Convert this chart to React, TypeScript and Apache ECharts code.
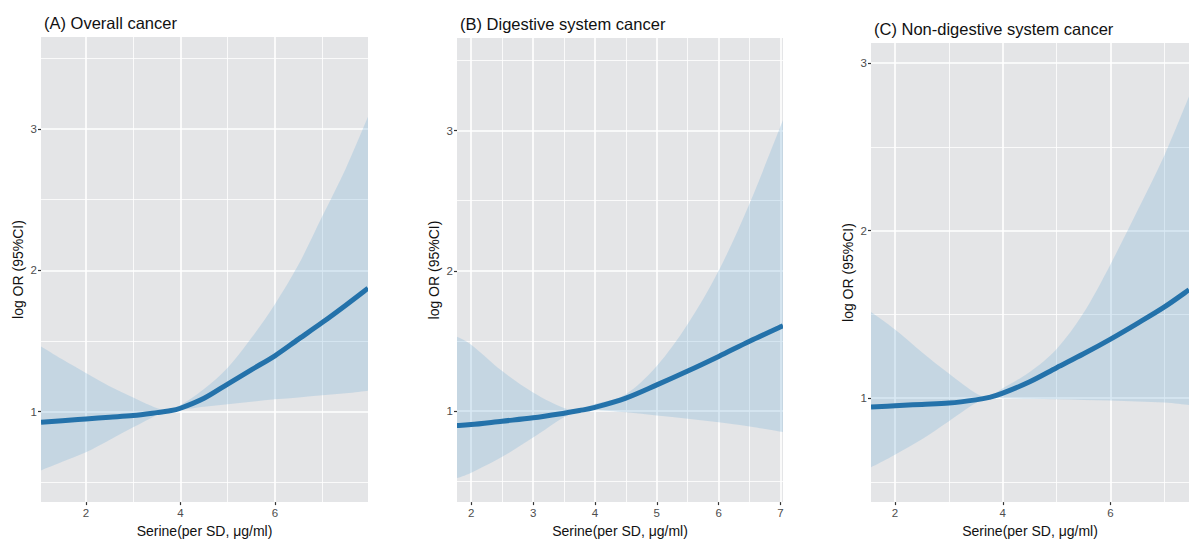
import React, { useEffect, useRef } from "react";
import * as echarts from "echarts";

// ---- Data ----
const titles = ["(A) Overall cancer", "(B) Digestive system cancer", "(C) Non-digestive system cancer"];
const xName = "Serine(per SD, μg/ml)";
const yName = "log OR (95%CI)";

// Panel A
const xA = [1.05, 1.5, 2, 2.5, 3, 3.5, 3.75, 4, 4.5, 5, 5.5, 6, 6.5, 7, 7.5, 7.97];
const estA = [0.925, 0.936, 0.948, 0.96, 0.972, 0.993, 1.005, 1.024, 1.094, 1.195, 1.296, 1.395, 1.513, 1.63, 1.753, 1.873];
const hiA = [1.461, 1.37, 1.273, 1.18, 1.1, 1.025, 1.012, 1.045, 1.16, 1.31, 1.52, 1.76, 2.04, 2.38, 2.72, 3.085];
const loA = [0.584, 0.645, 0.713, 0.8, 0.889, 0.975, 0.998, 1.012, 1.035, 1.052, 1.07, 1.087, 1.1, 1.115, 1.13, 1.148];

// Panel B
const xB = [1.76, 2, 2.5, 3, 3.5, 3.75, 4, 4.5, 5, 5.5, 6, 6.5, 7.04];
const estB = [0.896, 0.903, 0.927, 0.951, 0.984, 1.003, 1.026, 1.092, 1.186, 1.285, 1.389, 1.497, 1.608];
const hiB = [1.532, 1.473, 1.285, 1.132, 1.021, 1.012, 1.05, 1.12, 1.32, 1.62, 2.0, 2.48, 3.075];
const loB = [0.52, 0.56, 0.673, 0.81, 0.955, 0.995, 1.005, 0.99, 0.967, 0.945, 0.92, 0.89, 0.85];

// Panel C
const xC = [1.555, 2, 2.5, 3, 3.5, 3.75, 4, 4.5, 5, 5.5, 6, 6.5, 7, 7.455];
const estC = [0.947, 0.955, 0.963, 0.971, 0.99, 1.005, 1.03, 1.098, 1.182, 1.265, 1.353, 1.447, 1.545, 1.647];
const hiC = [1.514, 1.41, 1.275, 1.147, 1.03, 1.01, 1.06, 1.157, 1.294, 1.51, 1.8, 2.12, 2.45, 2.8];
const loC = [0.588, 0.663, 0.755, 0.863, 0.971, 0.998, 1.0, 0.997, 0.994, 0.99, 0.986, 0.981, 0.975, 0.96];

// Axis ticks
const xMajorA = [2, 4, 6];
const xMinorA = [1, 3, 5, 7];
const xMajorB = [2, 3, 4, 5, 6, 7];
const xMinorB = [2.5, 3.5, 4.5, 5.5, 6.5];
const xMajorC = [2, 4, 6];
const xMinorC = [3, 5, 7];
const yMajor = [1, 2, 3];
const yMinor = [0.5, 1.5, 2.5, 3.5];

const panels = [
  { x: xA, est: estA, hi: hiA, lo: loA, xMaj: xMajorA, xMin: xMinorA, xRange: [1.05, 7.97], yRange: [0.36, 3.65],
    grid: { left: 41, top: 37, width: 327, height: 467 } },
  { x: xB, est: estB, hi: hiB, lo: loB, xMaj: xMajorB, xMin: xMinorB, xRange: [1.77, 7.04], yRange: [0.35, 3.66],
    grid: { left: 457, top: 38, width: 326, height: 468 } },
  { x: xC, est: estC, hi: hiC, lo: loC, xMaj: xMajorC, xMin: xMinorC, xRange: [1.555, 7.455], yRange: [0.38, 3.12],
    grid: { left: 871, top: 43, width: 318, height: 467 } },
];

const FONT = "'Liberation Sans', Arial, sans-serif";
const BG = "#E4E5E7";
const LINE = "#2472AA";
const BAND = "rgba(120,175,215,0.28)";

// Catmull-Rom spline (pixel space) -> SVG cubic segments
function splineSegs(pts: number[][]): string {
  let d = "";
  for (let i = 0; i < pts.length - 1; i++) {
    const p0 = pts[Math.max(0, i - 1)];
    const p1 = pts[i];
    const p2 = pts[i + 1];
    const p3 = pts[Math.min(pts.length - 1, i + 2)];
    const c1x = p1[0] + (p2[0] - p0[0]) / 6;
    const c1y = p1[1] + (p2[1] - p0[1]) / 6;
    const c2x = p2[0] - (p3[0] - p1[0]) / 6;
    const c2y = p2[1] - (p3[1] - p1[1]) / 6;
    d += ` C${c1x},${c1y} ${c2x},${c2y} ${p2[0]},${p2[1]}`;
  }
  return d;
}

export default function App() {
  const ref = useRef<HTMLDivElement>(null);
  useEffect(() => {
    if (!ref.current) return;
    const chart = echarts.init(ref.current, null, { renderer: "svg" });
    const grids: any[] = [];
    const xAxes: any[] = [];
    const yAxes: any[] = [];
    const series: any[] = [];
    const title: any[] = [];
    panels.forEach((p, i) => {
      grids.push({ ...p.grid, show: true, backgroundColor: BG, borderWidth: 0 });
      title.push({
        text: titles[i], left: p.grid.left - 2, top: p.grid.top - 28,
        textStyle: { fontSize: 16.5, fontWeight: "normal", color: "#111", fontFamily: FONT },
      });
      xAxes.push({
        type: "value", gridIndex: i, min: p.xRange[0], max: p.xRange[1],
        name: xName, nameLocation: "middle", nameGap: 19,
        nameTextStyle: { fontSize: 14, color: "#111", fontFamily: FONT },
        axisLine: { show: false },
        axisTick: { show: true, length: 3, customValues: p.xMaj, lineStyle: { color: "#333", width: 1.2 } },
        axisLabel: { customValues: p.xMaj, fontSize: 11.5, color: "#4D4D4D", margin: 5, fontFamily: FONT },
        splitLine: { show: true, lineStyle: { color: "#FFFFFF", width: 1.6 } },
      });
      xAxes.push({
        type: "value", gridIndex: i, min: p.xRange[0], max: p.xRange[1], position: "bottom",
        axisLine: { show: false },
        axisTick: { show: false, customValues: p.xMin },
        axisLabel: { show: false, customValues: p.xMin },
        splitLine: { show: true, lineStyle: { color: "#FFFFFF", width: 0.8 } },
      });
      yAxes.push({
        type: "value", gridIndex: i, min: p.yRange[0], max: p.yRange[1],
        name: yName, nameLocation: "middle", nameGap: 16,
        nameTextStyle: { fontSize: 14, color: "#111", fontFamily: FONT },
        axisLine: { show: false },
        axisTick: { show: true, length: 3, customValues: yMajor, lineStyle: { color: "#333", width: 1.2 } },
        axisLabel: { customValues: yMajor, fontSize: 11.5, color: "#4D4D4D", margin: 4, fontFamily: FONT },
        splitLine: { show: true, lineStyle: { color: "#FFFFFF", width: 1.6 } },
      });
      yAxes.push({
        type: "value", gridIndex: i, min: p.yRange[0], max: p.yRange[1], position: "left",
        axisLine: { show: false },
        axisTick: { show: false, customValues: yMinor },
        axisLabel: { show: false, customValues: yMinor },
        splitLine: { show: true, lineStyle: { color: "#FFFFFF", width: 0.8 } },
      });
      // Confidence band: one smooth closed path in the axes' pixel space
      series.push({
        type: "custom", xAxisIndex: 2 * i, yAxisIndex: 2 * i, clip: true, silent: true,
        data: p.x.map((x, k) => [x, p.lo[k], p.hi[k]]),
        encode: { x: 0, y: [1, 2] },
        renderItem: (params: any, api: any) => {
          if (params.dataIndex !== 0) return null;
          const top = p.x.map((x, k) => api.coord([x, p.hi[k]]));
          const bot = p.x.map((x, k) => api.coord([x, p.lo[k]])).reverse();
          const d =
            `M${top[0][0]},${top[0][1]}` + splineSegs(top) +
            ` L${bot[0][0]},${bot[0][1]}` + splineSegs(bot) + " Z";
          return {
            type: "path",
            shape: { pathData: d },
            style: { fill: BAND, stroke: "none" },
          };
        },
      });
      series.push({
        type: "custom", xAxisIndex: 2 * i, yAxisIndex: 2 * i, clip: true, silent: true, z: 3,
        data: p.x.map((x, k) => [x, p.est[k]]),
        encode: { x: 0, y: 1 },
        renderItem: (params: any, api: any) => {
          if (params.dataIndex !== 0) return null;
          const pts = p.x.map((x, k) => api.coord([x, p.est[k]]));
          const d = `M${pts[0][0]},${pts[0][1]}` + splineSegs(pts);
          return {
            type: "path",
            shape: { pathData: d },
            style: { fill: "none", stroke: LINE, lineWidth: 5, lineCap: "butt", lineJoin: "round" },
          };
        },
      });
    });
    chart.setOption({
      animation: false,
      backgroundColor: "#FFFFFF",
      title, grid: grids, xAxis: xAxes, yAxis: yAxes, series,
    });
    return () => chart.dispose();
  }, []);
  return <div ref={ref} style={{ position: "fixed", left: 0, top: 0, width: 1189, height: 543 }} />;
}
